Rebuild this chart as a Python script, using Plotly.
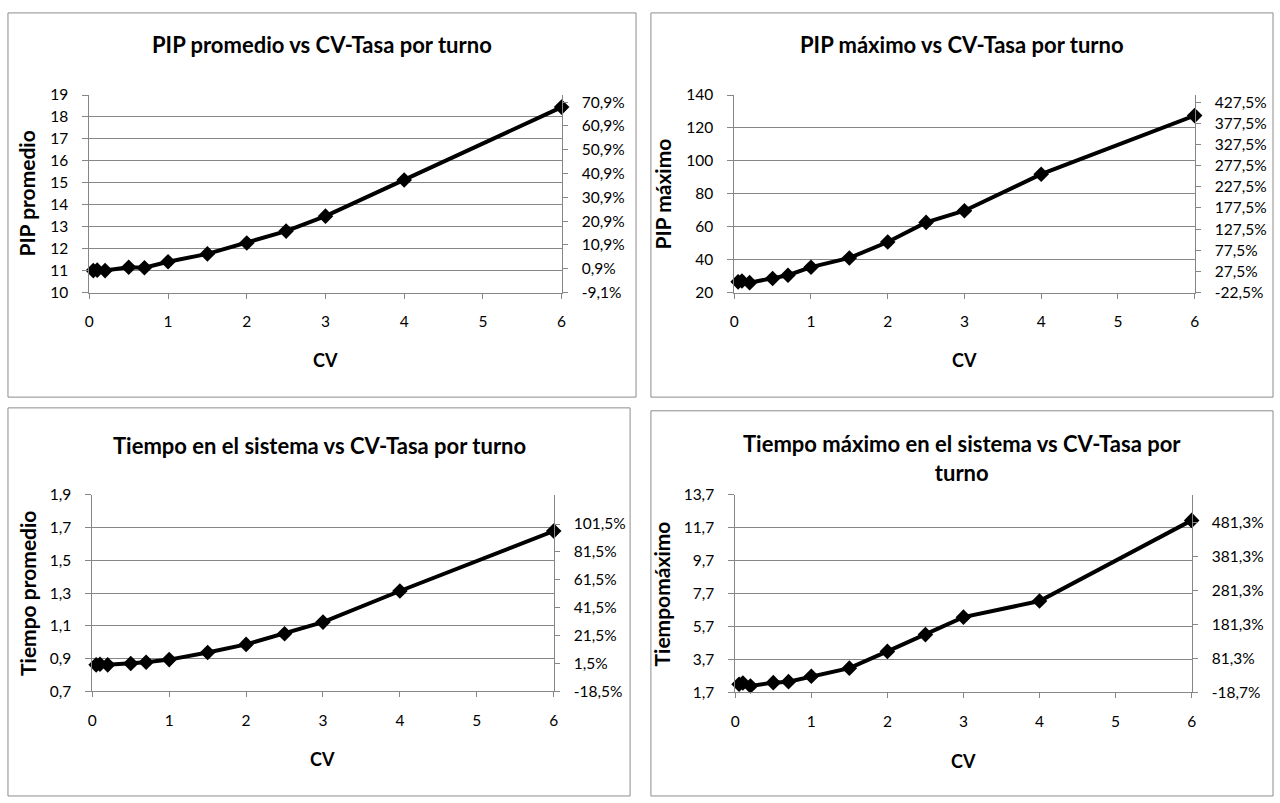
import plotly.graph_objects as go

# ---------------- data ----------------
cv = [0.05, 0.1, 0.2, 0.5, 0.7, 1, 1.5, 2, 2.5, 3, 4, 6]

pip_promedio = [11.0, 11.02, 11.0, 11.15, 11.13, 11.4, 11.76, 12.26, 12.8, 13.48, 15.13, 18.45]
pip_maximo = [26.5, 27.0, 26.0, 28.5, 30.5, 35.4, 41.0, 50.7, 62.6, 69.7, 91.9, 127.5]
tiempo_promedio = [0.862, 0.866, 0.862, 0.87, 0.878, 0.894, 0.937, 0.987, 1.052, 1.123, 1.313, 1.679]
tiempo_maximo = [2.19, 2.27, 2.09, 2.29, 2.35, 2.68, 3.17, 4.19, 5.21, 6.27, 7.25, 12.15]

titles = [
    "PIP promedio vs CV-Tasa por turno",
    "PIP máximo vs CV-Tasa por turno",
    "Tiempo en el sistema vs CV-Tasa por turno",
    "Tiempo máximo en el sistema vs CV-Tasa por<br>turno",
]
ytitles = ["PIP promedio", "PIP máximo", "Tiempo promedio", "Tiempomáximo"]
xtitle = "CV"

# left axes: range, dtick
left_ranges = [(10, 19), (20, 140), (0.7, 1.9), (1.7, 13.7)]
left_dticks = [1, 20, 0.2, 2]
left_formats = ["d", "d", ".1f", ".1f"]

# right (percent) axes
right_ranges = [(-9.1, 73.9), (-22.5, 444.4), (-18.5, 122.4), (-18.7, 562.0)]
right_ticks = [
    [-9.1, 0.9, 10.9, 20.9, 30.9, 40.9, 50.9, 60.9, 70.9],
    [-22.5, 27.5, 77.5, 127.5, 177.5, 227.5, 277.5, 327.5, 377.5, 427.5],
    [-18.5, 1.5, 21.5, 41.5, 61.5, 81.5, 101.5],
    [-18.7, 81.3, 181.3, 281.3, 381.3, 481.3],
]
right_labels = [
    ["-9,1%", "0,9%", "10,9%", "20,9%", "30,9%", "40,9%", "50,9%", "60,9%", "70,9%"],
    ["-22,5%", "27,5%", "77,5%", "127,5%", "177,5%", "227,5%", "277,5%", "327,5%", "377,5%", "427,5%"],
    ["-18,5%", "1,5%", "21,5%", "41,5%", "61,5%", "81,5%", "101,5%"],
    ["-18,7%", "81,3%", "181,3%", "281,3%", "381,3%", "481,3%"],
]

series = [pip_promedio, pip_maximo, tiempo_promedio, tiempo_maximo]

# ---------------- layout geometry (pixels) ----------------
W, H = 1280, 803
plot_px = [  # x0, x1, ytop, ybottom
    (85, 561, 87, 289),
    (735, 1199, 87, 289),
    (88, 553, 496, 697),
    (736, 1196, 496, 698),
]
boxes = [  # chart borders
    (3, 3, 636, 396),
    (651, 3, 1278, 396),
    (3, 407, 630, 804),
    (651, 410, 1278, 804),
]
title_y = [35, 35, 445, 458]
xtitle_y = [358, 358, 766, 768]
ytitle_x = [22, 663, 22, 662]

FONT = "Lato"
GRID = "#868686"
TICKSZ = 15.5

fig = go.Figure()
layout = dict(
    width=W, height=H, margin=dict(l=0, r=0, t=0, b=0),
    paper_bgcolor="white", plot_bgcolor="white",
    showlegend=False, separators=",.",
    font=dict(family=FONT, color="black", size=TICKSZ),
    annotations=[], shapes=[],
)

for i in range(4):
    xn = i + 1
    yl = 2 * i + 1
    yr = 2 * i + 2
    xa = "x" if xn == 1 else f"x{xn}"
    ya = "y" if yl == 1 else f"y{yl}"
    yb = f"y{yr}"
    x0, x1, yt, ybm = plot_px[i]
    xd = [x0 / W, x1 / W]
    yd = [1 - ybm / H, 1 - yt / H]

    layout["xaxis" if xn == 1 else f"xaxis{xn}"] = dict(
        domain=xd, anchor=ya, range=[0, 6], tick0=0, dtick=1,
        showgrid=False, zeroline=False, showline=True, linecolor=GRID, linewidth=1,
        ticks="outside", ticklen=5, tickcolor=GRID, mirror=False, ticklabelstandoff=10,
        tickfont=dict(size=TICKSZ, family=FONT), fixedrange=True,
    )
    layout["yaxis" if yl == 1 else f"yaxis{yl}"] = dict(
        domain=yd, anchor=xa, range=list(left_ranges[i]),
        tick0=left_ranges[i][0], dtick=left_dticks[i], tickformat=left_formats[i],
        showgrid=True, gridcolor=GRID, gridwidth=1, zeroline=False,
        showline=True, linecolor=GRID, linewidth=1,
        ticks="outside", ticklen=6, tickcolor=GRID, ticklabelstandoff=11,
        tickfont=dict(size=TICKSZ, family=FONT), fixedrange=True,
    )
    layout[f"yaxis{yr}"] = dict(
        overlaying=ya, side="right", anchor=xa, range=list(right_ranges[i]),
        tickmode="array", tickvals=right_ticks[i], ticktext=right_labels[i],
        showgrid=False, zeroline=False, showline=True, linecolor=GRID, linewidth=1,
        ticks="outside", ticklen=5, tickcolor=GRID, ticklabelstandoff=11,
        tickfont=dict(size=TICKSZ, family=FONT), fixedrange=True,
    )

    fig.add_trace(go.Scatter(
        x=cv, y=series[i], xaxis=xa, yaxis=ya, mode="lines+markers",
        line=dict(color="black", width=4),
        marker=dict(symbol="diamond", size=12, color="black"),
        hoverinfo="skip", cliponaxis=False,
    ))
    fig.add_trace(go.Scatter(
        x=[None], y=[None], xaxis=xa, yaxis=yb, mode="markers",
        showlegend=False, hoverinfo="skip",
    ))

    bx0, by0, bx1, by1 = boxes[i]
    layout["shapes"].append(dict(
        type="rect", xref="paper", yref="paper",
        x0=bx0 / W, x1=bx1 / W, y0=1 - by1 / H, y1=1 - by0 / H,
        line=dict(color="#8c8c8c", width=1), fillcolor="rgba(0,0,0,0)", layer="below",
    ))

    cx = (bx0 + bx1) / 2
    layout["annotations"].append(dict(
        text=f"<b>{titles[i]}</b>", xref="paper", yref="paper",
        x=cx / W, y=1 - title_y[i] / H, xanchor="center", yanchor="middle",
        showarrow=False, font=dict(size=22, family=FONT, color="black"),
    ))
    layout["annotations"].append(dict(
        text=f"<b>{xtitle}</b>", xref="paper", yref="paper",
        x=((x0 + x1) / 2) / W, y=1 - xtitle_y[i] / H, xanchor="center", yanchor="middle",
        showarrow=False, font=dict(size=18, family=FONT, color="black"),
    ))
    layout["annotations"].append(dict(
        text=f"<b>{ytitles[i]}</b>", xref="paper", yref="paper",
        x=ytitle_x[i] / W, y=1 - ((yt + ybm) / 2) / H, xanchor="center", yanchor="middle",
        textangle=-90, showarrow=False, font=dict(size=21, family=FONT, color="black"),
    ))

fig.update_layout(**layout)
fig.write_html("out.html")
